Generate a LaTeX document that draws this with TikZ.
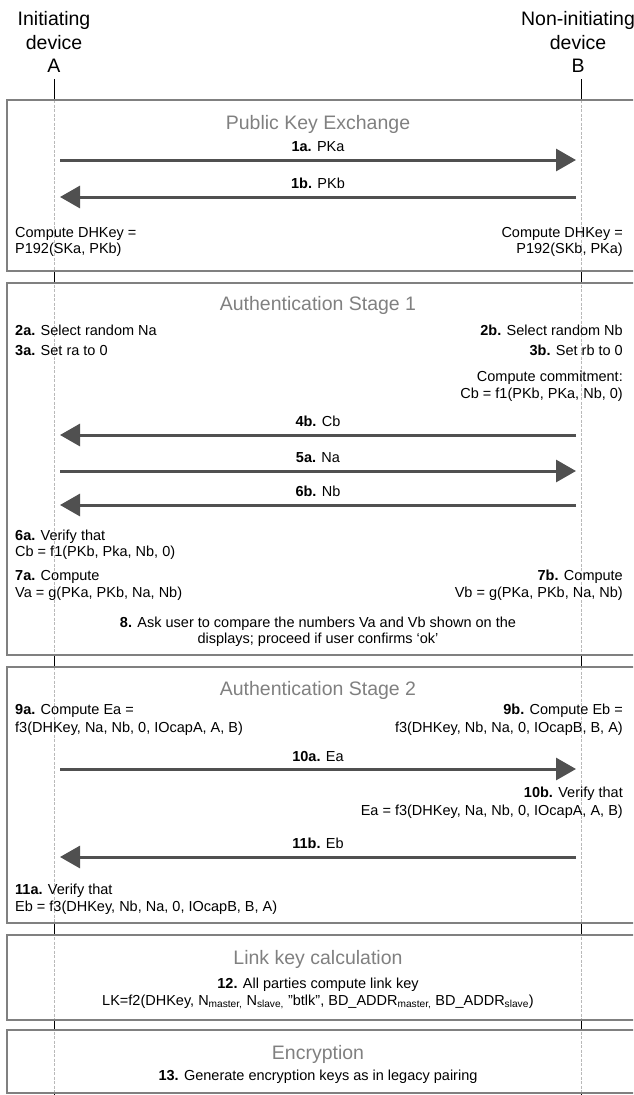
\documentclass[tikz,border=0pt]{standalone}
\usepackage{fontspec}
\setmainfont{Liberation Sans}
\usetikzlibrary{arrows.meta}
\definecolor{boxgray}{RGB}{128,128,128}
\definecolor{secgray}{RGB}{128,128,128}
\definecolor{arrowgray}{RGB}{80,80,80}
\definecolor{lifegray}{RGB}{185,185,185}
\tikzset{
  body/.style={font=\fontsize{14.5}{17}\selectfont, inner sep=0pt},
  lt/.style={body, anchor=base west},
  rt/.style={body, anchor=base east},
  ct/.style={body, anchor=base},
  sect/.style={font=\fontsize{19.5}{23}\selectfont, text=secgray, anchor=base, inner sep=0pt},
  head/.style={font=\fontsize{19.5}{23}\selectfont, anchor=base, inner sep=0pt},
  phase/.style={draw=boxgray, line width=2pt},
  msg/.style={draw=arrowgray, line width=3pt, -{Triangle[length=20pt,width=22pt]}},
  lifein/.style={draw=lifegray, line width=0.6pt, dash pattern=on 3pt off 1.5pt},
  lifeout/.style={draw=black, line width=0.8pt},
}
\begin{document}
\begin{tikzpicture}[x=1pt,y=-1pt]
\clip (0,0) rectangle (633,1095);
% headers
\node[head] (hA1) at (54,25) {Initiating};
\node[head] (hA2) at (54,49) {device};
\node[head] (hA3) at (54,72) {A};
\node[head] (hB1) at (578,25) {Non-initiating};
\node[head] (hB2) at (578,49) {device};
\node[head] (hB3) at (578,72) {B};
% lifelines
\coordinate (Atop) at (54,79);
\coordinate (Btop) at (581,79);
\coordinate (Abot) at (54,1095);
\coordinate (Bbot) at (581,1095);
\draw[lifein] (54,100) -- (54,1093);
\draw[lifein] (581,100) -- (581,1093);
\foreach \ya/\yb in {79/100,271/283,655/667,923/935,1020/1030,1093/1095}{
  \draw[lifeout] (54,\ya) -- (54,\yb);
  \draw[lifeout] (581,\ya) -- (581,\yb);
}
% phase boxes
\draw[phase] (7,100) rectangle (645,271);
\draw[phase] (7,283) rectangle (645,655);
\draw[phase] (7,667) rectangle (645,923);
\draw[phase] (7,935) rectangle (645,1020);
\draw[phase] (7,1030) rectangle (645,1093);

% ---- Public Key Exchange
\node[sect] (s1) at (318,129) {Public Key Exchange};
\coordinate (m1aA) at (60,160); \coordinate (m1aB) at (576,160);
\draw[msg] (m1aA) -- (m1aB);
\node[ct] (l1a) at (318,151) {\textbf{1a.} PKa};
\coordinate (m1bA) at (60,197); \coordinate (m1bB) at (576,197);
\draw[msg] (m1bB) -- (m1bA);
\node[ct] (l1b) at (318,188) {\textbf{1b.} PKb};
\node[lt] (dhA1) at (15,237) {Compute DHKey =};
\node[lt] (dhA2) at (15,253) {P192(SKa, PKb)};
\node[rt] (dhB1) at (623,237) {Compute DHKey =};
\node[rt] (dhB2) at (623,253) {P192(SKb, PKa)};

% ---- Authentication Stage 1
\node[sect] (s2) at (318,310) {Authentication Stage 1};
\node[lt] (t2a) at (15,335) {\textbf{2a.} Select random Na};
\node[rt] (t2b) at (623,335) {\textbf{2b.} Select random Nb};
\node[lt] (t3a) at (15,355) {\textbf{3a.} Set ra to 0};
\node[rt] (t3b) at (623,355) {\textbf{3b.} Set rb to 0};
\node[rt] (cc1) at (623,381) {Compute commitment:};
\node[rt] (cc2) at (623,398) {Cb = f1(PKb, PKa, Nb, 0)};
\coordinate (m4A) at (60,435); \coordinate (m4B) at (576,435);
\draw[msg] (m4B) -- (m4A);
\node[ct] (l4b) at (318,426) {\textbf{4b.} Cb};
\coordinate (m5A) at (60,471); \coordinate (m5B) at (576,471);
\draw[msg] (m5A) -- (m5B);
\node[ct] (l5a) at (318,462) {\textbf{5a.} Na};
\coordinate (m6A) at (60,505); \coordinate (m6B) at (576,505);
\draw[msg] (m6B) -- (m6A);
\node[ct] (l6b) at (318,496) {\textbf{6b.} Nb};
\node[lt] (t6a1) at (15,540) {\textbf{6a.} Verify that};
\node[lt] (t6a2) at (15,556) {Cb = f1(PKb, Pka, Nb, 0)};
\node[lt] (t7a1) at (15,580) {\textbf{7a.} Compute};
\node[lt] (t7a2) at (15,597) {Va = g(PKa, PKb, Na, Nb)};
\node[rt] (t7b1) at (623,580) {\textbf{7b.} Compute};
\node[rt] (t7b2) at (623,597) {Vb = g(PKa, PKb, Na, Nb)};
\node[ct] (t81) at (318,627) {\textbf{8.} Ask user to compare the numbers Va and Vb shown on the};
\node[ct] (t82) at (318,643) {displays; proceed if user confirms ‘ok’};

% ---- Authentication Stage 2
\node[sect] (s3) at (318,695) {Authentication Stage 2};
\node[lt] (t9a1) at (15,714) {\textbf{9a.} Compute Ea =};
\node[lt] (t9a2) at (15,732) {f3(DHKey, Na, Nb, 0, IOcapA, A, B)};
\node[rt] (t9b1) at (623,714) {\textbf{9b.} Compute Eb =};
\node[rt] (t9b2) at (623,732) {f3(DHKey, Nb, Na, 0, IOcapB, B, A)};
\coordinate (m10A) at (60,769); \coordinate (m10B) at (576,769);
\draw[msg] (m10A) -- (m10B);
\node[ct] (l10a) at (318,761) {\textbf{10a.} Ea};
\node[rt] (t10b1) at (623,797) {\textbf{10b.} Verify that};
\node[rt] (t10b2) at (623,815) {Ea = f3(DHKey, Na, Nb, 0, IOcapA, A, B)};
\coordinate (m11A) at (60,857); \coordinate (m11B) at (576,857);
\draw[msg] (m11B) -- (m11A);
\node[ct] (l11b) at (318,848) {\textbf{11b.} Eb};
\node[lt] (t11a1) at (15,894) {\textbf{11a.} Verify that};
\node[lt] (t11a2) at (15,911) {Eb = f3(DHKey, Nb, Na, 0, IOcapB, B, A)};

% ---- Link key calculation
\node[sect] (s4) at (318,964) {Link key calculation};
\node[ct] (t121) at (318,988) {\textbf{12.} All parties compute link key};
\node[ct] (t122) at (318,1005) {LK=f2(DHKey, N\textsubscript{master,} N\textsubscript{slave,} "btlk", BD\_ADDR\textsubscript{master,} BD\_ADDR\textsubscript{slave})};

% ---- Encryption
\node[sect] (s5) at (318,1059) {Encryption};
\node[ct] (t13) at (318,1080) {\textbf{13.} Generate encryption keys as in legacy pairing};
\end{tikzpicture}
\end{document}
